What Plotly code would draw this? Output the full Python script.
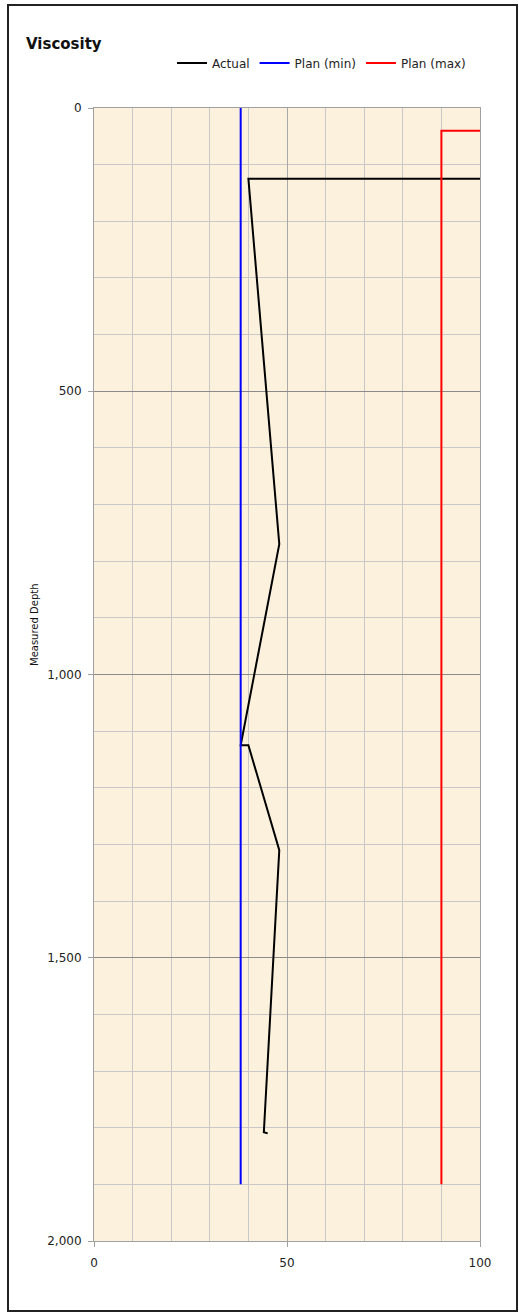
import plotly.graph_objects as go

# Viscosity log: measured depth vs. viscosity
actual_visc = [120, 40, 48, 38, 40, 48, 44, 45]
actual_depth = [125, 125, 770, 1125, 1125, 1310, 1808, 1810]

plan_min_visc = [38, 38]
plan_min_depth = [0, 1900]

plan_max_visc = [120, 90, 90]
plan_max_depth = [40, 40, 1900]

y_ticks = [0, 500, 1000, 1500, 2000]
y_tick_text = ["0", "500", "1,000", "1,500", "2,000"]
x_ticks = [0, 50, 100]

FONT = "DejaVu Sans"
W, H = 519, 1315
L, R, T, B = 94, 39, 108, 74
PW, PH = W - L - R, H - T - B


def px_x(p):
    return (p - L) / PW


def px_y(p):
    return (H - B - p) / PH


fig = go.Figure()
fig.add_trace(go.Scatter(x=actual_visc, y=actual_depth, mode="lines", name="Actual",
                         line=dict(color="black", width=2)))
fig.add_trace(go.Scatter(x=plan_min_visc, y=plan_min_depth, mode="lines", name="Plan (min)",
                         line=dict(color="#0000ff", width=2)))
fig.add_trace(go.Scatter(x=plan_max_visc, y=plan_max_depth, mode="lines", name="Plan (max)",
                         line=dict(color="#ff0000", width=2)))

tick_font = dict(family=FONT, size=12, color="#222222")

fig.update_layout(
    width=W, height=H,
    margin=dict(l=L, r=R, t=T, b=B),
    paper_bgcolor="white",
    plot_bgcolor="#fcf1dc",
    font=dict(family=FONT, size=12, color="#222222"),
    showlegend=True,
    legend=dict(orientation="h", x=px_x(172), y=px_y(63), xanchor="left", yanchor="middle",
                bgcolor="rgba(0,0,0,0)", font=dict(family=FONT, size=12, color="#222222"),
                itemwidth=30, tracegroupgap=0),
    xaxis=dict(range=[0, 100], tickvals=x_ticks, showgrid=True, gridcolor="#a8a8a8", gridwidth=1,
               minor=dict(dtick=10, showgrid=True, gridcolor="#c8c8c8", gridwidth=1),
               showline=True, linecolor="#a0a0a0", linewidth=1, mirror=True,
               ticks="outside", ticklen=5, tickcolor="#a0a0a0", zeroline=False,
               ticklabelstandoff=6, tickfont=tick_font),
    yaxis=dict(range=[2000, 0], tickvals=y_ticks, ticktext=y_tick_text,
               showgrid=True, gridcolor="#8a8a8a", gridwidth=1,
               minor=dict(dtick=100, showgrid=True, gridcolor="#c8c8c8", gridwidth=1),
               showline=True, linecolor="#a0a0a0", linewidth=1, mirror=True,
               ticks="outside", ticklen=5, tickcolor="#a0a0a0", zeroline=False,
               ticklabelstandoff=4, tickfont=tick_font),
    annotations=[
        dict(text="<b>Viscosity</b>", xref="paper", yref="paper", x=px_x(24), y=px_y(44),
             xanchor="left", yanchor="middle", showarrow=False,
             font=dict(family=FONT, size=15, color="#111111")),
        dict(text="Measured Depth", xref="paper", yref="paper", x=px_x(34), y=px_y(625),
             xanchor="center", yanchor="middle", showarrow=False, textangle=-90,
             font=dict(family=FONT, size=10, color="#111111")),
    ],
    shapes=[
        dict(type="rect", xref="paper", yref="paper",
             x0=px_x(8), x1=px_x(517), y0=px_y(1311), y1=px_y(5),
             line=dict(color="#222222", width=2), fillcolor="rgba(0,0,0,0)", layer="above"),
    ],
)

fig.write_html("out.html")
